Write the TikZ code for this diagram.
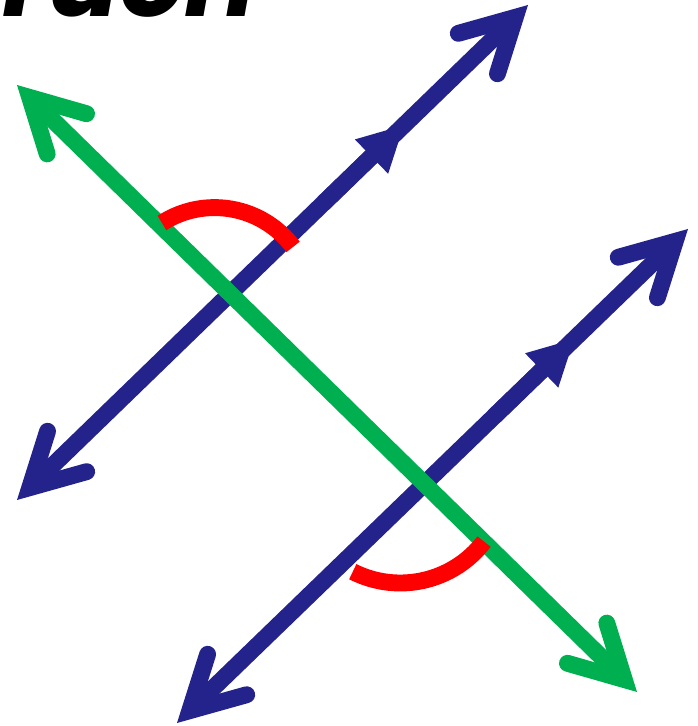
\documentclass[tikz,border=0pt]{standalone}
\usepackage{fontspec}
\usepackage{tikz}
\usetikzlibrary{arrows.meta, calc}
\newfontfamily\headfont{Poppins}
\definecolor{lineblue}{RGB}{35,35,139}
\definecolor{linegreen}{RGB}{0,176,80}
\definecolor{anglered}{RGB}{255,0,0}
\tikzset{
  barb/.tip={Straight Barb[length=37pt, width=40pt, line cap=round]},
  midtip/.tip={Triangle[length=32pt, width=34pt, line width=0pt]}
}

\begin{document}
\begin{tikzpicture}[x=0.025cm, y=0.025cm,
  thickline/.style={line width=12pt},
  anglearc/.style={anglered, line width=12pt}]
  \useasboundingbox (0,0) rectangle (698,726);
  \clip (0,0) rectangle (698,726);
  % Cut-off heading
  \node[anchor=base west, inner sep=0pt, font=\headfont\bfseries\itshape\fontsize{76}{76}\selectfont] (head) at (2,709) {ruch};
  % End points
  \coordinate (b1s) at (17,226);
  \coordinate (b1e) at (528,721);
  \coordinate (b2s) at (177,3);
  \coordinate (b2e) at (688,497);
  \coordinate (gs) at (17,641);
  \coordinate (ge) at (637,34);
  % Parallel lines
  \draw[lineblue, thickline, {barb}-{barb}] (b1s) -- (b1e);
  \draw[lineblue, thickline, {barb}-{barb}] (b2s) -- (b2e);
  \draw[lineblue, thickline, -{midtip}] ($(b1s)!0.6!(b1e)$) -- ($(b1s)!0.757!(b1e)$);
  \draw[lineblue, thickline, -{midtip}] ($(b2s)!0.62!(b2e)$) -- ($(b2s)!0.777!(b2e)$);
  % Transversal
  \draw[linegreen, thickline, {barb}-{barb}] (gs) -- (ge);
  % Angle marks
  \coordinate (c1) at (214.6,420.4);
  \coordinate (c2) at (400.3,248.4);
  \draw[anglearc] ([shift={(122.5:98)}]c1) arc[start angle=122.5, end angle=36.8, radius=98];
  \draw[anglearc] ([shift={(243.2:105.4)}]c2) arc[start angle=243.2, end angle=322.6, radius=105.4];
\end{tikzpicture}
\end{document}
